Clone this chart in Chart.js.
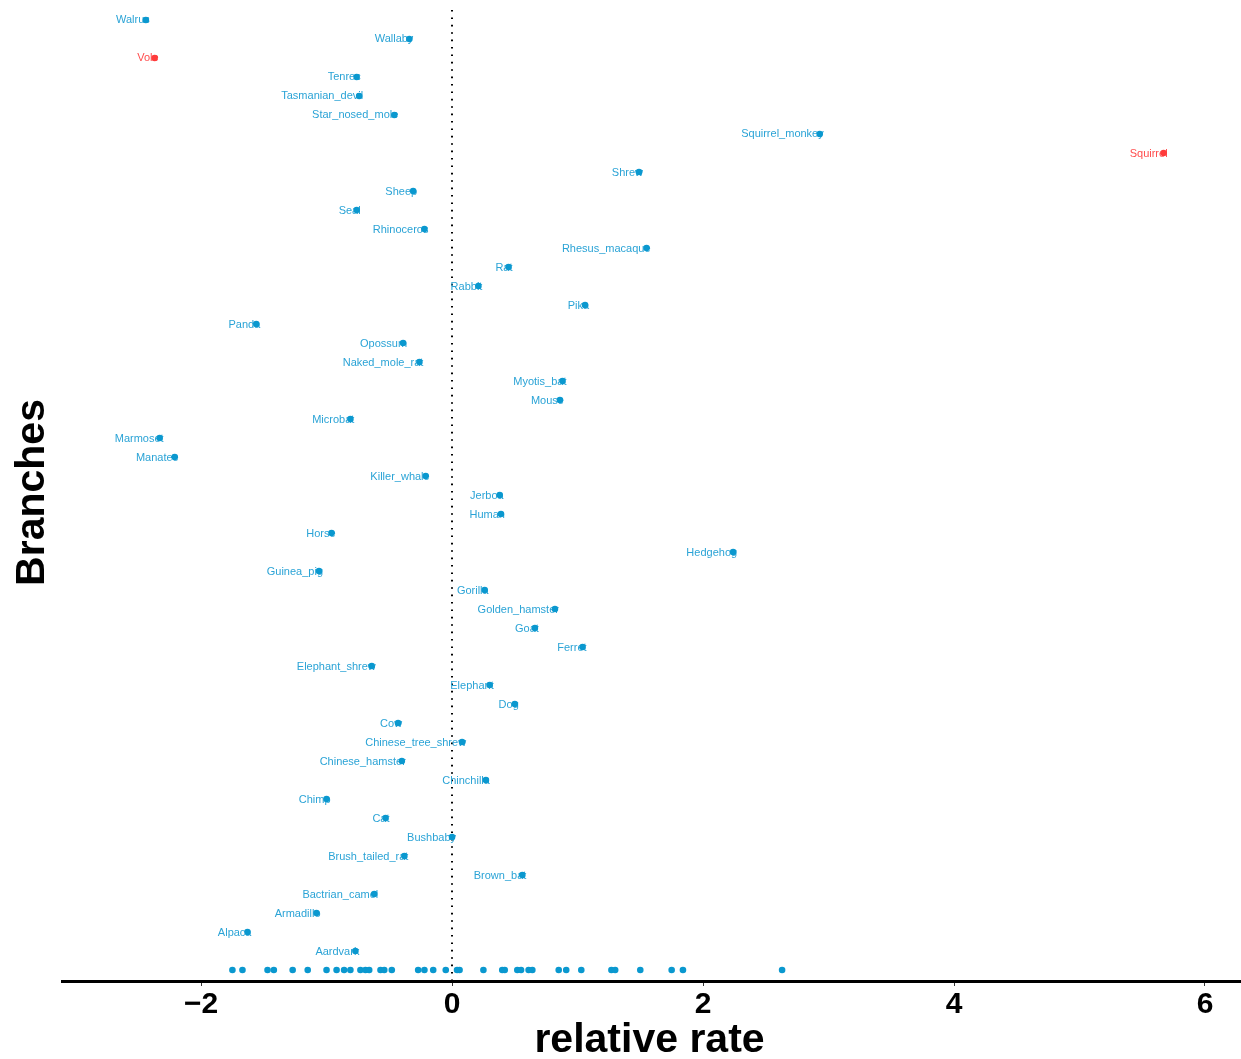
<!DOCTYPE html>
<html>
<head>
<meta charset="utf-8">
<title>relative rate by branch</title>
<script src="https://cdn.jsdelivr.net/npm/chart.js@4.4.0/dist/chart.umd.min.js"></script>
<style>
  body { margin: 0; background: #fff; }
  canvas { display: block; }
</style>
</head>
<body>
<canvas id="rateChart" width="1241" height="1059"></canvas>
<script>
// branches, bottom to top
const branches = [
  "Aardvark", "Alpaca", "Armadillo", "Bactrian_camel", "Brown_bat",
  "Brush_tailed_rat", "Bushbaby", "Cat", "Chimp", "Chinchilla",
  "Chinese_hamster", "Chinese_tree_shrew", "Cow", "Dog", "Elephant",
  "Elephant_shrew", "Ferret", "Goat", "Golden_hamster", "Gorilla",
  "Guinea_pig", "Hedgehog", "Horse", "Human", "Jerboa",
  "Killer_whale", "Manatee", "Marmoset", "Microbat", "Mouse",
  "Myotis_bat", "Naked_mole_rat", "Opossum", "Panda", "Pika",
  "Rabbit", "Rat", "Rhesus_macaque", "Rhinoceros", "Seal",
  "Sheep", "Shrew", "Squirrel", "Squirrel_monkey", "Star_nosed_mole",
  "Tasmanian_devil", "Tenrec", "Vole", "Wallaby", "Walrus"
];
const rates = [
  -0.77, -1.63, -1.08, -0.62, 0.56,
  -0.38, 0.00, -0.53, -1.00, 0.27,
  -0.40, 0.08, -0.43, 0.50, 0.30,
  -0.64, 1.04, 0.66, 0.82, 0.26,
  -1.06, 2.24, -0.96, 0.39, 0.38,
  -0.21, -2.21, -2.33, -0.81, 0.86,
  0.88, -0.26, -0.39, -1.56, 1.06,
  0.21, 0.45, 1.55, -0.22, -0.76,
  -0.31, 1.49, 5.67, 2.93, -0.46,
  -0.74, -0.76, -2.37, -0.34, -2.44
];
const highlighted = ["Vole", "Squirrel"];

// points along the bottom row
const nullRates = [
  -1.75, -1.67, -1.47, -1.42, -1.27, -1.15, -1.00, -0.92, -0.86, -0.81,
  -0.73, -0.69, -0.66, -0.57, -0.54, -0.48, -0.27, -0.22, -0.15, -0.05,
  0.04, 0.06, 0.25, 0.40, 0.42, 0.52, 0.55, 0.61, 0.64, 0.85,
  0.91, 1.03, 1.27, 1.30, 1.50, 1.75, 1.84, 2.63
];
const xTicks = [-2, 0, 2, 4, 6];

const blue = "#0a98cf";
const blueText = "#2aa3d6";
const red = "#ff3b3b";
const redText = "#ff4d4d";

const pointColors = branches.map(b => highlighted.includes(b) ? red : blue);
const textColors = branches.map(b => highlighted.includes(b) ? redText : blueText);

const labelPlugin = {
  id: "branchLabels",
  beforeDatasetsDraw(chart) {
    const { ctx, chartArea, scales: { x } } = chart;
    // dotted zero line
    ctx.save();
    ctx.strokeStyle = "#000";
    ctx.lineWidth = 2;
    ctx.setLineDash([1.6, 5.8]);
    const x0 = Math.round(x.getPixelForValue(0));
    ctx.beginPath();
    ctx.moveTo(x0, 10);
    ctx.lineTo(x0, chartArea.bottom);
    ctx.stroke();
    ctx.restore();

    // axis line runs on to the canvas edge
    ctx.save();
    ctx.fillStyle = "#000";
    ctx.fillRect(chartArea.right - 1, Math.round(chartArea.bottom) - 1, chart.width - chartArea.right + 1, 3);
    ctx.restore();

    ctx.save();
    ctx.font = "11px 'Liberation Sans', Arial, sans-serif";
    ctx.textAlign = "right";
    ctx.textBaseline = "middle";
    const meta = chart.getDatasetMeta(0);
    meta.data.forEach((pt, i) => {
      ctx.fillStyle = textColors[i];
      ctx.fillText(branches[i], pt.x + 4, pt.y + 0.5);
    });
    ctx.restore();
  }
};

new Chart(document.getElementById("rateChart"), {
  type: "scatter",
  data: {
    datasets: [
      {
        label: "branches",
        data: branches.map((b, i) => ({ x: rates[i], y: i + 1 })),
        pointBackgroundColor: pointColors,
        pointBorderWidth: 0,
        pointRadius: 3.3
      },
      {
        label: "bottom",
        data: nullRates.map(v => ({ x: v, y: 0 })),
        pointBackgroundColor: blue,
        pointBorderWidth: 0,
        pointRadius: 3.3
      }
    ]
  },
  options: {
    responsive: false,
    animation: false,
    devicePixelRatio: 1,
    layout: { padding: 0 },
    plugins: {
      legend: { display: false },
      tooltip: { enabled: false }
    },
    scales: {
      x: {
        type: "linear",
        min: -3.108,
        max: 6.255,
        afterBuildTicks: scale => { scale.ticks = xTicks.map(v => ({ value: v })); },
        afterFit: scale => { scale.height = 78; },
        grid: { display: true, drawOnChartArea: false, drawTicks: true, tickLength: 5, color: "#333", lineWidth: 1 },
        border: { display: true, color: "#000", width: 3 },
        ticks: {
          padding: 1,
          color: "#000",
          font: { family: "'Liberation Sans', Arial, sans-serif", size: 30, weight: "bold" },
          callback: v => v < 0 ? "\u2212" + Math.abs(v) : String(v)
        },
        title: {
          display: true,
          text: "relative rate",
          color: "#000",
          font: { family: "'Liberation Sans', Arial, sans-serif", size: 41, weight: "bold", lineHeight: 0.9 },
          padding: { top: 0, bottom: 0 }
        }
      },
      y: {
        type: "linear",
        min: -0.578,
        max: 50.84,
        afterFit: scale => { scale.width = 62; },
        grid: { display: false },
        border: { display: false },
        ticks: { display: false },
        title: {
          display: true,
          text: "Branches",
          color: "#000",
          font: { family: "'Liberation Sans', Arial, sans-serif", size: 41, weight: "bold", lineHeight: 1.0 },
          padding: { top: 12, bottom: 0 }
        }
      }
    }
  },
  plugins: [labelPlugin]
});
</script>
</body>
</html>
